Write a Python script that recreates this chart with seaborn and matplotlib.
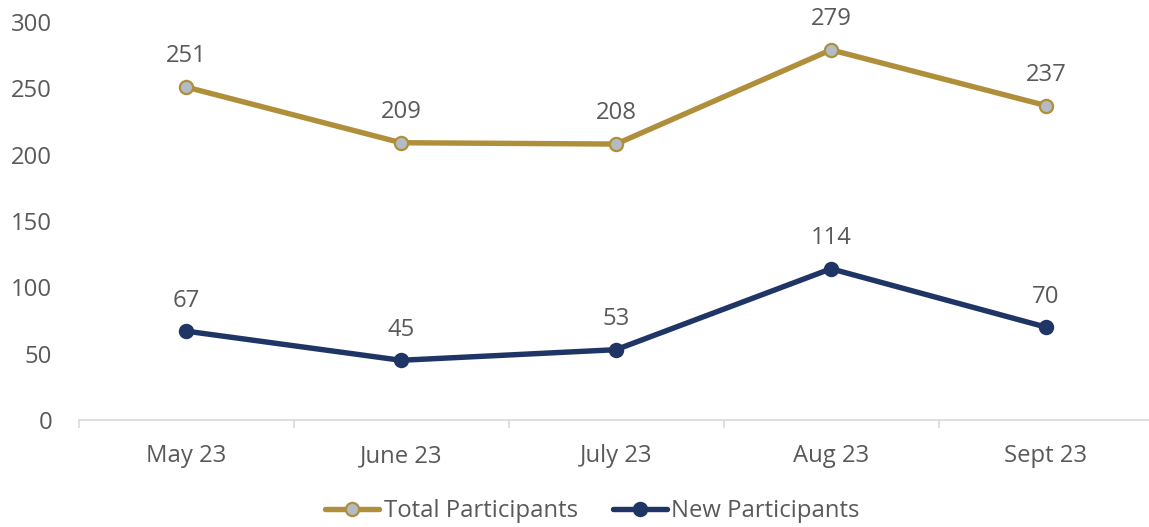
import matplotlib
matplotlib.use("Agg")
import matplotlib.pyplot as plt
import seaborn as sns
import pandas as pd
from matplotlib.ticker import FixedLocator

months = ["May 23", "June 23", "July 23", "Aug 23", "Sept 23"]
total_participants = [251, 209, 208, 279, 237]
new_participants = [67, 45, 53, 114, 70]
y_ticks = [0, 50, 100, 150, 200, 250, 300]

GOLD = "#B08F3B"
NAVY = "#1F3566"
MARKER_GRAY = "#B3BCC4"
TEXT = "#595959"
AXIS = "#D9D9D9"
FS = 17.2

sns.set_theme(style="white")
plt.rcParams["font.family"] = ["Open Sans", "DejaVu Sans"]

df = pd.DataFrame({
    "Month": months * 2,
    "Count": total_participants + new_participants,
    "Series": ["Total Participants"] * len(months) + ["New Participants"] * len(months),
})

fig = plt.figure(figsize=(11.49, 5.27), dpi=100)
ax = fig.add_axes([78.5 / 1149, 107 / 527, 1075 / 1149, 398 / 527])

sns.lineplot(data=df[df["Series"] == "Total Participants"], x="Month", y="Count",
             ax=ax, color=GOLD, lw=3.9, marker="o", markersize=9.5,
             markerfacecolor=MARKER_GRAY, markeredgecolor=GOLD, markeredgewidth=1.6,
             label="Total Participants", sort=False)
sns.lineplot(data=df[df["Series"] == "New Participants"], x="Month", y="Count",
             ax=ax, color=NAVY, lw=3.9, marker="o", markersize=9.5,
             markerfacecolor=NAVY, markeredgecolor=NAVY, markeredgewidth=1.6,
             label="New Participants", sort=False)

for i, (t, n) in enumerate(zip(total_participants, new_participants)):
    for v in (t, n):
        ax.annotate(str(v), (i, v), xytext=(0, 22), textcoords="offset points",
                    ha="center", va="center", fontsize=FS, color=TEXT)

ax.set_xlim(-0.5, len(months) - 0.5)
ax.set_ylim(0, 300)
ax.set_yticks(y_ticks)
ax.set_xticks(range(len(months)))
ax.set_xticklabels(months)
ax.xaxis.set_minor_locator(FixedLocator([i - 0.5 for i in range(len(months) + 1)]))
ax.tick_params(axis="x", which="major", length=0, pad=17.5, labelsize=FS, labelcolor=TEXT)
ax.tick_params(axis="x", which="minor", length=6, width=1.2, color=AXIS, bottom=True)
ax.tick_params(axis="y", length=0, pad=19, labelsize=FS, labelcolor=TEXT)
ax.set_xlabel("")
ax.set_ylabel("")

for side in ("top", "right", "left"):
    ax.spines[side].set_visible(False)
ax.spines["bottom"].set_color(AXIS)
ax.spines["bottom"].set_linewidth(1.2)
ax.grid(False)

leg = ax.legend(loc="center", bbox_to_anchor=(592.5 / 1149, 16 / 527),
                bbox_transform=fig.transFigure, ncol=2, frameon=False,
                fontsize=FS, handlelength=2.26, handletextpad=0.2,
                columnspacing=1.45, borderpad=0)
for txt in leg.get_texts():
    txt.set_color(TEXT)

fig.savefig("out.png", dpi=100)
